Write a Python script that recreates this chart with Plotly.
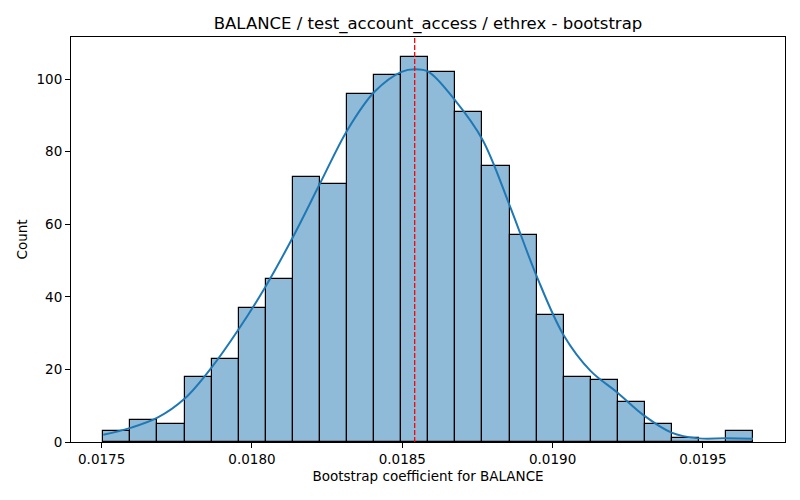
import numpy as np
import plotly.graph_objects as go

# histograma de los coeficientes bootstrap (1000 remuestreos)
bin_start = 0.0175053
bin_width = 0.0000901
counts = [3, 6, 5, 18, 23, 37, 45, 73, 71, 96, 101, 106,
          102, 91, 76, 57, 35, 18, 17, 11, 5, 1, 0, 3]

# curva kde
kde_x = [0.0175053, 0.0175958, 0.0176856, 0.0177754, 0.0178653, 0.0179551,
         0.0180449, 0.0181364, 0.0182279, 0.0183177, 0.0184075, 0.0184973,
         0.0185423, 0.0185871, 0.0186770, 0.0187668, 0.0188566, 0.0189465,
         0.0190363, 0.0191261, 0.0192159, 0.0193057, 0.0193955, 0.0194853,
         0.0195752, 0.0196667]
kde_y = [2.0, 3.9, 6.7, 11.9, 20.5, 31.0, 42.8, 56.5, 71.5, 86.0, 96.5, 102.0,
         102.7, 102.0, 94.0, 83.3, 65.3, 45.8, 29.5, 19.6, 13.6, 7.2, 2.6,
         1.0, 1.0, 0.9]

media = 0.0185412
x_ticks = [0.0175, 0.0180, 0.0185, 0.0190, 0.0195]
y_ticks = [0, 20, 40, 60, 80, 100]

centros = bin_start + bin_width * (np.arange(len(counts)) + 0.5)

fig = go.Figure()
fig.add_trace(go.Bar(x=centros, y=counts, width=bin_width,
                     marker=dict(color='rgba(31,119,180,0.5)',
                                 line=dict(color='black', width=1.2)),
                     showlegend=False))
fig.add_trace(go.Scatter(x=kde_x, y=kde_y, mode='lines',
                         line=dict(color='#1f77b4', width=2, shape='spline'),
                         showlegend=False))
fig.add_shape(type='line', x0=media, x1=media, y0=0, y1=1, xref='x', yref='paper',
              line=dict(color='red', width=1.3, dash='5px,2px'))

eje = dict(showline=True, linecolor='black', linewidth=1, mirror=True,
           ticks='outside', ticklen=5, tickcolor='black', showgrid=False,
           zeroline=False, automargin=False, tickfont=dict(size=13.5, color='black'))

# la pagina tiene 8px de margen en el body, se compensa aqui
fig.update_layout(
    width=800, height=500,
    margin=dict(l=63, r=23, t=29, b=66),
    paper_bgcolor='white', plot_bgcolor='white',
    font=dict(family='DejaVu Sans', color='black'),
    title=dict(text='BALANCE / test_account_access / ethrex - bootstrap',
               x=(63 + 777) / 2 / 800, xanchor='center', y=1 - 15 / 500, yanchor='middle',
               font=dict(size=16.5, color='black')),
    bargap=0,
    xaxis=dict(eje, range=[0.017398, 0.019773], tickvals=x_ticks,
               ticktext=['%.4f' % v for v in x_ticks],
               title=dict(text='Bootstrap coefficient for BALANCE', font=dict(size=13.5), standoff=5)),
    yaxis=dict(eje, range=[0, 111.6], tickvals=y_ticks,
               title=dict(text='Count', font=dict(size=13.5), standoff=5)),
)

fig.write_html('out.html')
